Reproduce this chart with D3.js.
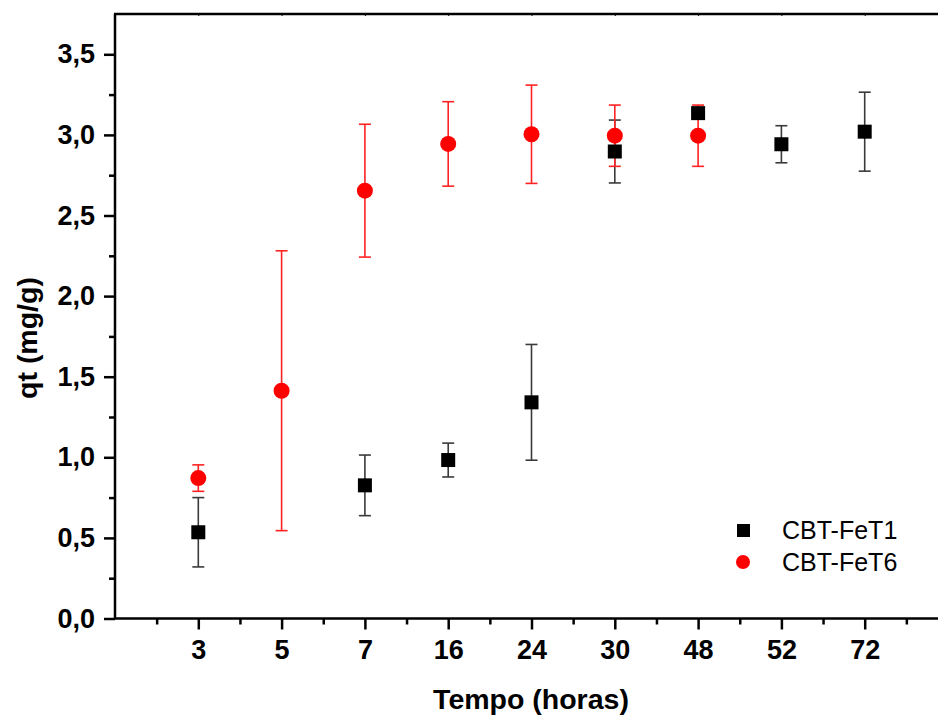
<html>
<head>
  <meta charset="utf-8" />
  <script src="https://cdnjs.cloudflare.com/ajax/libs/d3/7.8.5/d3.min.js"></script>
  <style>
    body { margin: 0; background: #fff; }
    text { font-family: Arial, "Liberation Sans", sans-serif; }
  </style>
</head>
<body>
  <svg></svg>
  <script>

    // categories on the x axis (hours)
    var horas = ["3", "5", "7", "16", "24", "30", "48", "52", "72"];
    var yTicks = [0, 0.5, 1.0, 1.5, 2.0, 2.5, 3.0, 3.5];

    // CBT-FeT1 (no point at 5 h)
    var fet1Horas = ["3", "7", "16", "24", "30", "48", "52", "72"];
    var fet1Media = [0.535, 0.826, 0.983, 1.341, 2.897, 3.135, 2.942, 3.020];
    var fet1Erro  = [0.215, 0.188, 0.105, 0.359, 0.195, 0.02, 0.115, 0.245];

    // CBT-FeT6
    var fet6Horas = ["3", "5", "7", "16", "24", "30", "48"];
    var fet6Media = [0.871, 1.413, 2.654, 2.944, 3.004, 2.995, 2.995];
    var fet6Erro  = [0.082, 0.868, 0.412, 0.262, 0.305, 0.19, 0.19];

    var W = 938, H = 717;
    var mLeft = 115, mTop = 14, mBottom = 618.5;

    var svg = d3.select("svg").attr("width", W).attr("height", H);

    // index scale: one step per category, frame runs from -1 to 9
    var x = d3.scaleLinear().domain([-1, 9]).range([mLeft, 948]);
    var y = d3.scaleLinear().domain([0, 3.75]).range([mBottom, mTop]);
    var xi = h => x(horas.indexOf(h));

    var fmt = d => d3.format(".1f")(d).replace(".", ",");

    // minor ticks
    var xMinor = d3.range(-0.5, 9, 1);
    var yMinor = d3.range(0.25, 3.5, 0.5);

    svg.append("g").attr("transform", "translate(0," + mBottom + ")")
      .call(d3.axisBottom(x).tickValues(xMinor).tickSize(6).tickFormat(""))
      .call(g => g.select(".domain").remove())
      .selectAll("line").attr("stroke-width", 2.5);

    svg.append("g").attr("transform", "translate(" + mLeft + ",0)")
      .call(d3.axisLeft(y).tickValues(yMinor).tickSize(6).tickFormat(""))
      .call(g => g.select(".domain").remove())
      .selectAll("line").attr("stroke-width", 2.5);

    // major axes
    var xAxisG = svg.append("g").attr("transform", "translate(0," + mBottom + ")")
      .call(d3.axisBottom(x).tickValues(d3.range(0, 9)).tickSize(11).tickPadding(10)
        .tickFormat(i => horas[i]));
    xAxisG.select(".domain").attr("d", "M" + mLeft + ",0H" + W).attr("stroke-width", 2.5);
    xAxisG.selectAll("line").attr("stroke-width", 2.5);
    xAxisG.selectAll("text").attr("font-size", 27).attr("font-weight", "bold").attr("fill", "#000");

    var yAxisG = svg.append("g").attr("transform", "translate(" + mLeft + ",0)")
      .call(d3.axisLeft(y).tickValues(yTicks).tickSize(11).tickPadding(9).tickFormat(fmt));
    yAxisG.select(".domain").attr("d", "M0," + mBottom + "V" + mTop).attr("stroke-width", 2.5);
    yAxisG.selectAll("line").attr("stroke-width", 2.5);
    yAxisG.selectAll("text").attr("font-size", 27).attr("font-weight", "bold").attr("fill", "#000");

    // top border with small inward ticks
    var topG = svg.append("g").attr("transform", "translate(0," + mTop + ")")
      .call(d3.axisTop(x).tickValues(d3.range(0, 9)).tickSize(-2).tickFormat(""));
    topG.select(".domain").attr("d", "M" + (mLeft - 1) + ",0H" + W).attr("stroke-width", 2.5);

    // axis titles
    svg.append("text").attr("x", 531).attr("y", 709).attr("text-anchor", "middle")
      .attr("font-size", 28.5).attr("font-weight", "bold").text("Tempo (horas)");
    svg.append("text").attr("transform", "translate(37,338) rotate(-90)")
      .attr("text-anchor", "middle").attr("font-size", 28.5).attr("font-weight", "bold")
      .text("qt (mg/g)");

    function errorBars(hs, ms, es, color) {
      var g = svg.append("g").attr("stroke", color).attr("stroke-width", 1.6);
      hs.forEach(function (h, i) {
        var cx = xi(h), y1 = y(ms[i] + es[i]), y0 = y(ms[i] - es[i]);
        g.append("line").attr("x1", cx).attr("x2", cx).attr("y1", y1).attr("y2", y0);
        g.append("line").attr("x1", cx - 6).attr("x2", cx + 6).attr("y1", y1).attr("y2", y1);
        g.append("line").attr("x1", cx - 6).attr("x2", cx + 6).attr("y1", y0).attr("y2", y0);
      });
    }

    errorBars(fet1Horas, fet1Media, fet1Erro, "#3a3a3a");
    errorBars(fet6Horas, fet6Media, fet6Erro, "#f22");

    svg.append("g").selectAll("rect").data(fet1Horas).enter().append("rect")
      .attr("x", d => xi(d) - 7).attr("y", (d, i) => y(fet1Media[i]) - 7)
      .attr("width", 14).attr("height", 14).attr("fill", "#000");

    svg.append("g").selectAll("circle").data(fet6Horas).enter().append("circle")
      .attr("cx", d => xi(d)).attr("cy", (d, i) => y(fet6Media[i]))
      .attr("r", 8).attr("fill", "#ff0000");

    // legend
    var leg = svg.append("g");
    leg.append("rect").attr("x", 737).attr("y", 524).attr("width", 13).attr("height", 13).attr("fill", "#000");
    leg.append("text").attr("x", 782).attr("y", 539).attr("font-size", 25).text("CBT-FeT1");
    leg.append("circle").attr("cx", 743).attr("cy", 562).attr("r", 7).attr("fill", "#ff0000");
    leg.append("text").attr("x", 782).attr("y", 571).attr("font-size", 25).text("CBT-FeT6");

  </script>
</body>
</html>
